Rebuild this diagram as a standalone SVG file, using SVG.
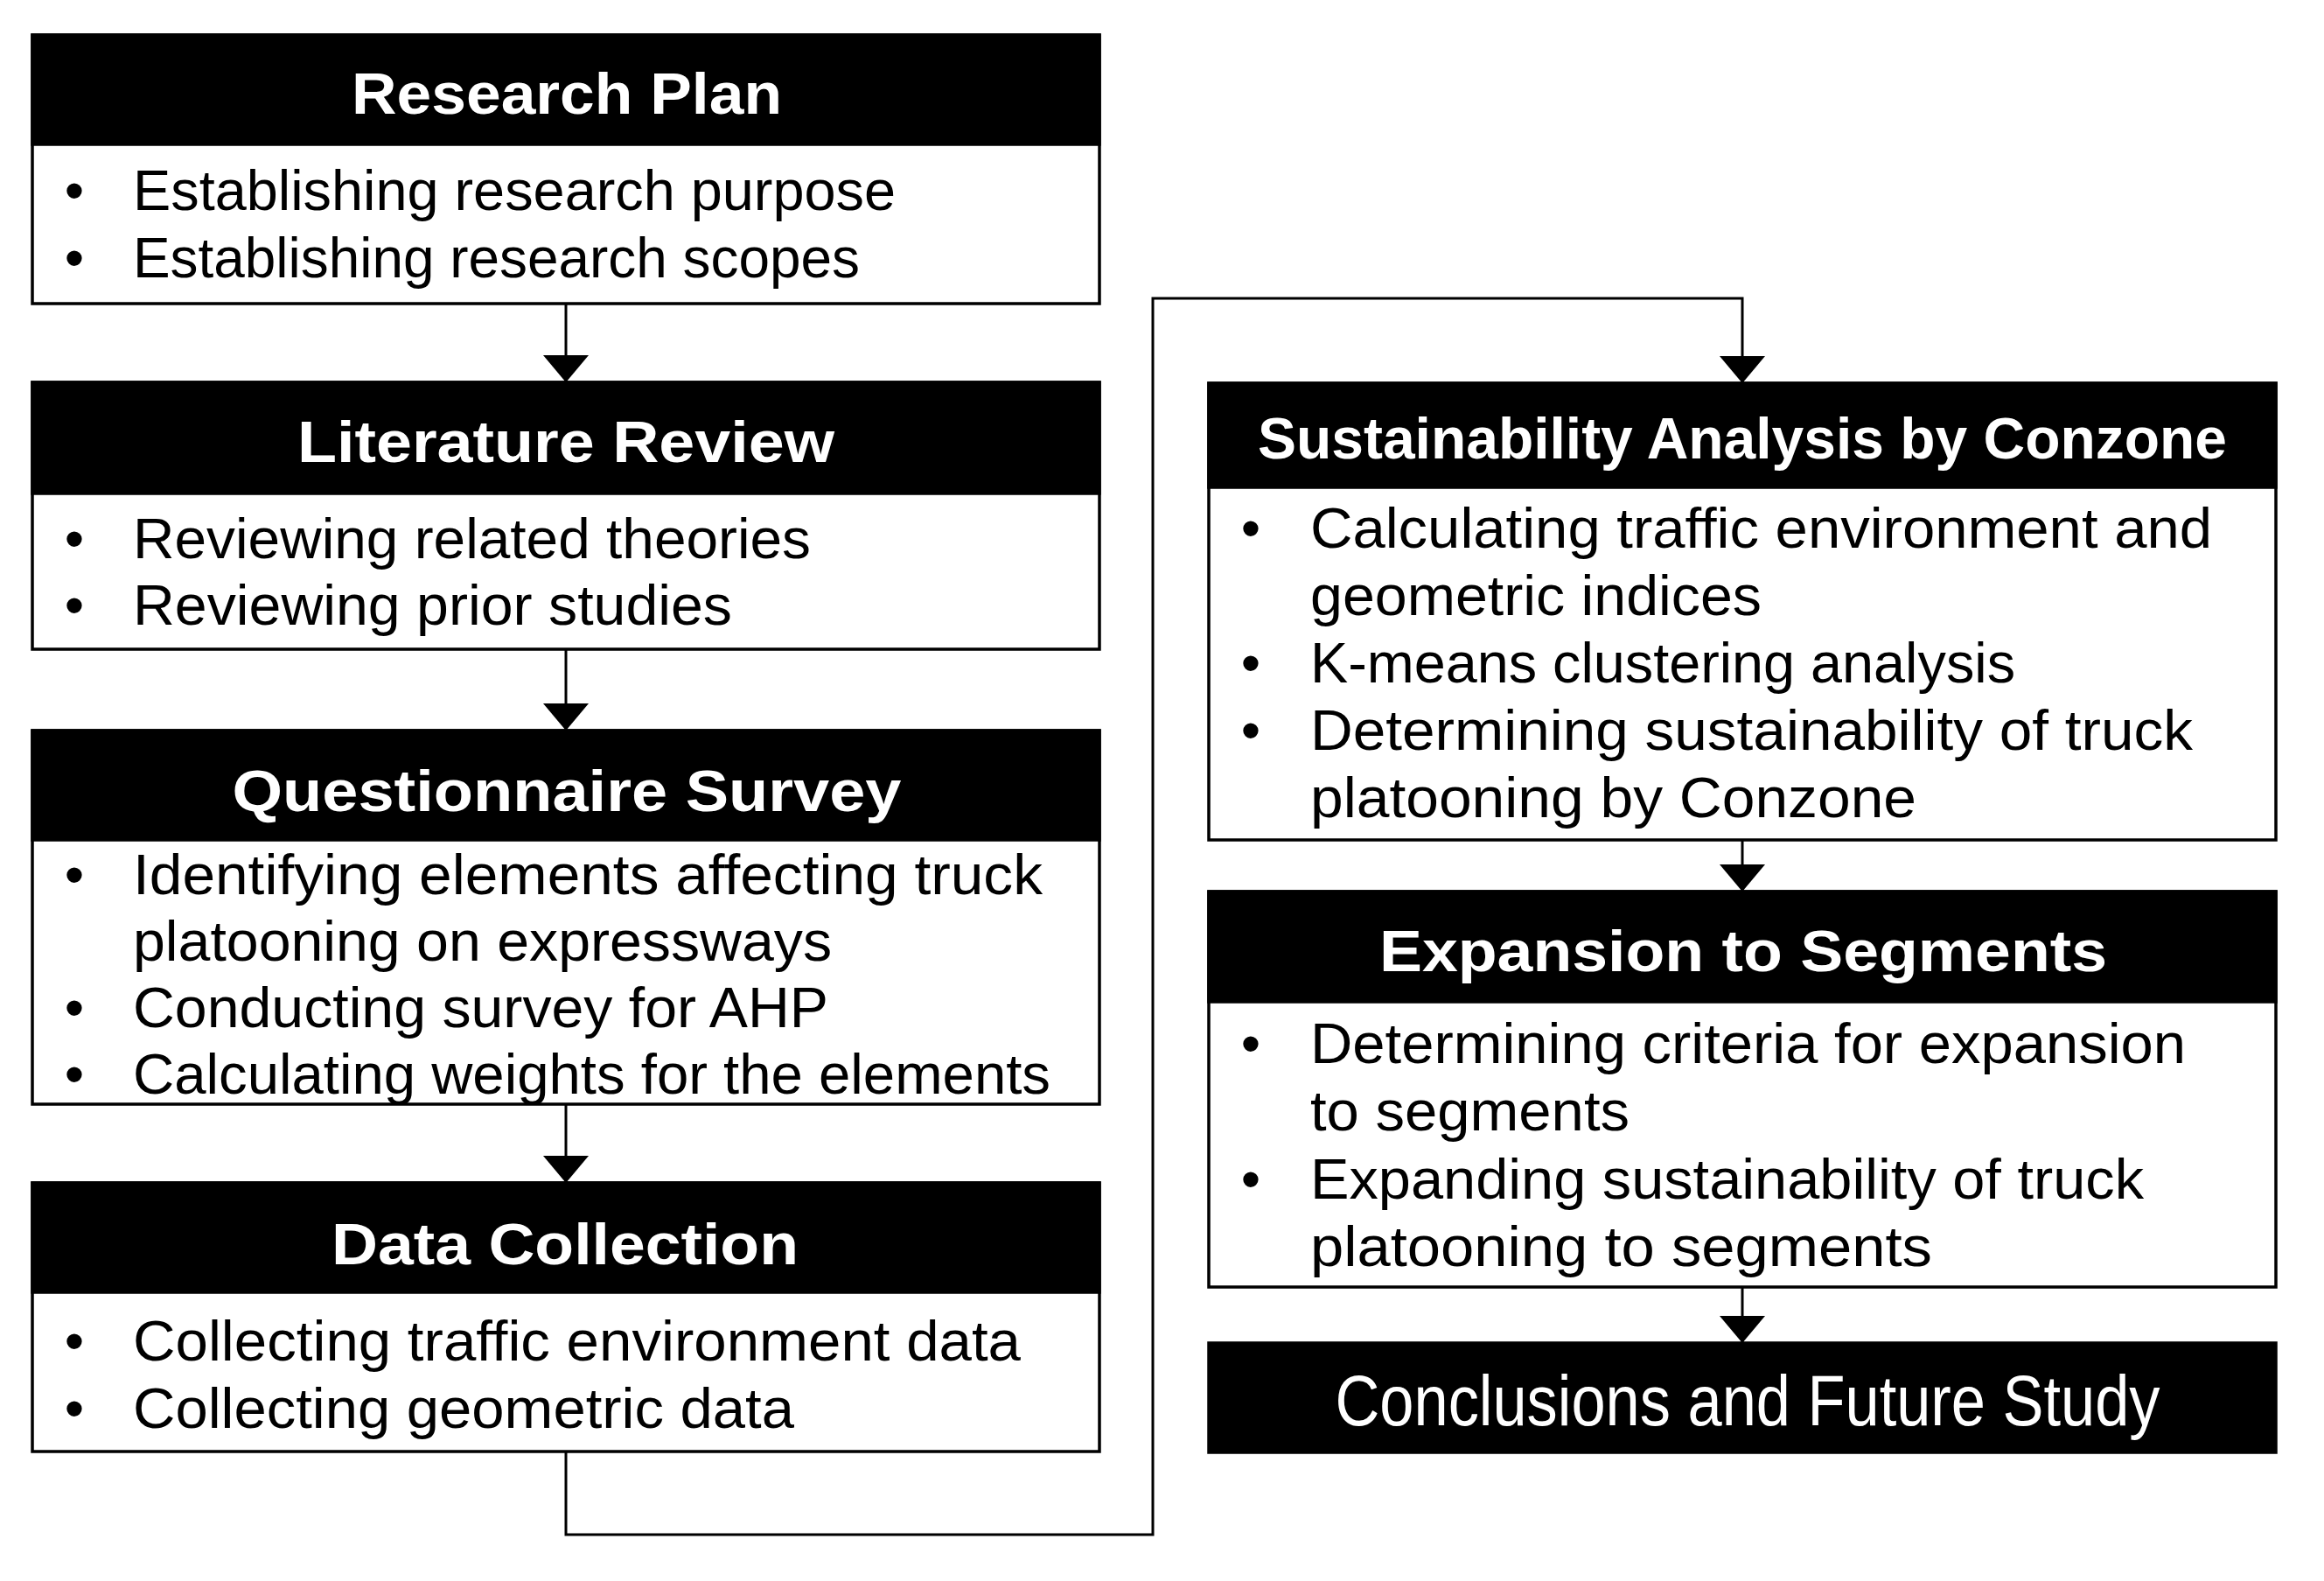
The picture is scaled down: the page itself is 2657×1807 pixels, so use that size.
<svg xmlns="http://www.w3.org/2000/svg" width="2657" height="1807" viewBox="0 0 2657 1807">
<defs>
<marker id="arr" viewBox="0 0 31 52" refX="31" refY="26" markerWidth="31" markerHeight="52" markerUnits="userSpaceOnUse" orient="auto">
<path d="M0,0 L31,26 L0,52 z" fill="#000"/>
</marker>
<style>
.box{fill:#fff;stroke:#000;stroke-width:3.5}
.hd{fill:#000;stroke:#000;stroke-width:3.5}
.ht{font-family:"Liberation Sans",Arial,sans-serif;font-weight:bold;font-size:67px;fill:#fff;text-anchor:middle}
.bt{font-family:"Liberation Sans",Arial,sans-serif;font-size:64px;fill:#000}
.bl{font-family:"Liberation Sans",Arial,sans-serif;font-size:64px;fill:#000;text-anchor:middle}
.cn{fill:none;stroke:#000;stroke-width:3;marker-end:url(#arr)}
</style>
</defs>
<rect width="2657" height="1807" fill="#fff"/>

<g id="research-plan">
<rect class="box" x="37" y="40" width="1220" height="307"/>
<rect class="hd" x="37" y="40" width="1220" height="125"/>
<text class="ht" x="648" y="130" textLength="492" lengthAdjust="spacingAndGlyphs">Research Plan</text>
<text class="bl" x="85" y="240">•</text>
<text class="bt" x="152" y="240" textLength="872" lengthAdjust="spacingAndGlyphs">Establishing research purpose</text>
<text class="bl" x="85" y="317">•</text>
<text class="bt" x="152" y="317" textLength="831" lengthAdjust="spacingAndGlyphs">Establishing research scopes</text>
</g>

<g id="literature-review">
<rect class="box" x="37" y="437" width="1220" height="305"/>
<rect class="hd" x="37" y="437" width="1220" height="127"/>
<text class="ht" x="647" y="528" textLength="614" lengthAdjust="spacingAndGlyphs">Literature Review</text>
<text class="bl" x="85" y="638">•</text>
<text class="bt" x="152" y="638" textLength="775" lengthAdjust="spacingAndGlyphs">Reviewing related theories</text>
<text class="bl" x="85" y="714">•</text>
<text class="bt" x="152" y="714" textLength="685" lengthAdjust="spacingAndGlyphs">Reviewing prior studies</text>
</g>

<g id="questionnaire-survey">
<rect class="box" x="37" y="835" width="1220" height="427"/>
<rect class="hd" x="37" y="835" width="1220" height="125"/>
<text class="ht" x="648" y="927" textLength="765" lengthAdjust="spacingAndGlyphs">Questionnaire Survey</text>
<text class="bl" x="85" y="1022">•</text>
<text class="bt" x="152" y="1022" textLength="1040" lengthAdjust="spacingAndGlyphs">Identifying elements affecting truck</text>
<text class="bt" x="152" y="1098" textLength="799" lengthAdjust="spacingAndGlyphs">platooning on expressways</text>
<text class="bl" x="85" y="1174">•</text>
<text class="bt" x="152" y="1174" textLength="795" lengthAdjust="spacingAndGlyphs">Conducting survey for AHP</text>
<text class="bl" x="85" y="1250">•</text>
<text class="bt" x="152" y="1250" textLength="1049" lengthAdjust="spacingAndGlyphs">Calculating weights for the elements</text>
</g>

<g id="data-collection">
<rect class="box" x="37" y="1352" width="1220" height="307"/>
<rect class="hd" x="37" y="1352" width="1220" height="125"/>
<text class="ht" x="646" y="1445" textLength="534" lengthAdjust="spacingAndGlyphs">Data Collection</text>
<text class="bl" x="85" y="1555">•</text>
<text class="bt" x="152" y="1555" textLength="1015" lengthAdjust="spacingAndGlyphs">Collecting traffic environment data</text>
<text class="bl" x="85" y="1632">•</text>
<text class="bt" x="152" y="1632" textLength="756" lengthAdjust="spacingAndGlyphs">Collecting geometric data</text>
</g>

<g id="sustainability-analysis">
<rect class="box" x="1382" y="438" width="1220" height="522"/>
<rect class="hd" x="1382" y="438" width="1220" height="119"/>
<text class="ht" x="1992" y="524" textLength="1108" lengthAdjust="spacingAndGlyphs">Sustainability Analysis by Conzone</text>
<text class="bl" x="1430" y="626">•</text>
<text class="bt" x="1498" y="626" textLength="1031" lengthAdjust="spacingAndGlyphs">Calculating traffic environment and</text>
<text class="bt" x="1498" y="703" textLength="516" lengthAdjust="spacingAndGlyphs">geometric indices</text>
<text class="bl" x="1430" y="780">•</text>
<text class="bt" x="1498" y="780" textLength="806" lengthAdjust="spacingAndGlyphs">K-means clustering analysis</text>
<text class="bl" x="1430" y="857">•</text>
<text class="bt" x="1498" y="857" textLength="1009" lengthAdjust="spacingAndGlyphs">Determining sustainability of truck</text>
<text class="bt" x="1498" y="934" textLength="693" lengthAdjust="spacingAndGlyphs">platooning by Conzone</text>
</g>

<g id="expansion-to-segments">
<rect class="box" x="1382" y="1019" width="1220" height="452"/>
<rect class="hd" x="1382" y="1019" width="1220" height="126"/>
<text class="ht" x="1993" y="1110" textLength="832" lengthAdjust="spacingAndGlyphs">Expansion to Segments</text>
<text class="bl" x="1430" y="1215">•</text>
<text class="bt" x="1498" y="1215" textLength="1001" lengthAdjust="spacingAndGlyphs">Determining criteria for expansion</text>
<text class="bt" x="1498" y="1292" textLength="365" lengthAdjust="spacingAndGlyphs">to segments</text>
<text class="bl" x="1430" y="1370">•</text>
<text class="bt" x="1498" y="1370" textLength="953" lengthAdjust="spacingAndGlyphs">Expanding sustainability of truck</text>
<text class="bt" x="1498" y="1447" textLength="711" lengthAdjust="spacingAndGlyphs">platooning to segments</text>
</g>

<g id="conclusions">
<rect class="hd" x="1382" y="1535" width="1220" height="125"/>
<text x="1998" y="1629" font-family="'Liberation Sans',Arial,sans-serif" font-size="82" fill="#fff" text-anchor="middle" textLength="943" lengthAdjust="spacingAndGlyphs">Conclusions and Future Study</text>
</g>

<g id="connectors">
<path class="cn" d="M647,347 V437"/>
<path class="cn" d="M647,742 V835"/>
<path class="cn" d="M647,1262 V1352"/>
<path class="cn" d="M647,1659 V1754 H1318 V341 H1992 V438"/>
<path class="cn" d="M1992,960 V1019"/>
<path class="cn" d="M1992,1471 V1535"/>
</g>
</svg>
